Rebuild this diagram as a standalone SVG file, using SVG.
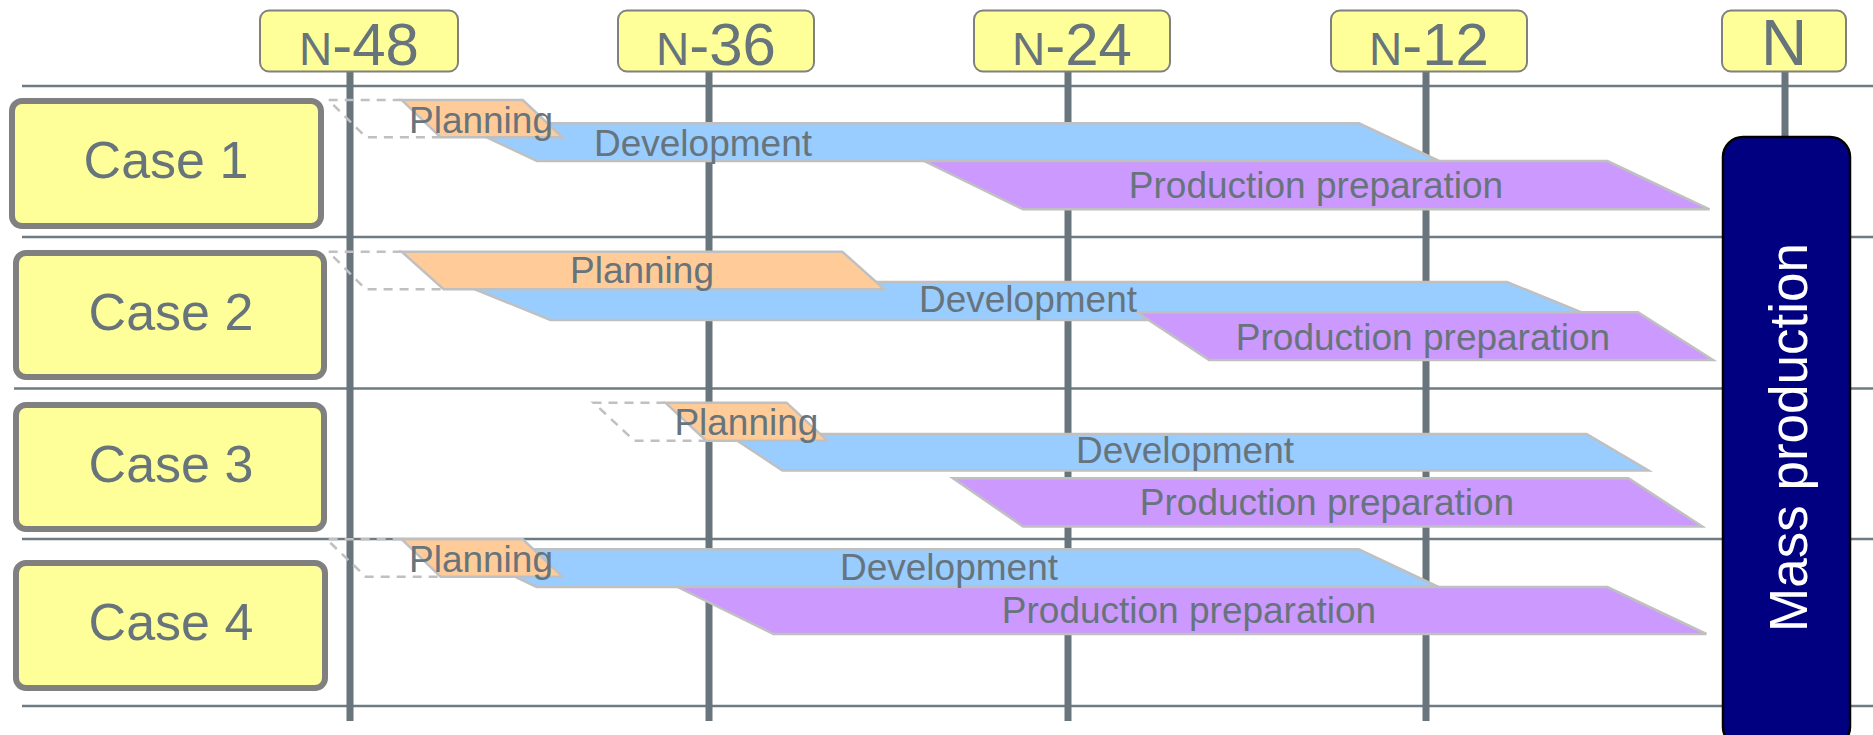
<svg xmlns="http://www.w3.org/2000/svg" width="1873" height="735" viewBox="0 0 1873 735">
  <style>
    .grid { stroke: #6e7b83; stroke-width: 2.5; fill: none; }
    .axis { stroke: #68757d; stroke-width: 7; fill: none; }
    .hdr { fill: #ffff99; stroke: #808080; stroke-width: 2; }
    .hdr-t { font-family: "Liberation Sans", Arial, sans-serif; font-size: 60px; fill: #67747c; text-anchor: middle; }
    .hdr-n { font-size: 46px; }
    .case { fill: #ffff99; stroke: #808080; stroke-width: 6; }
    .case-t { font-family: "Liberation Sans", Arial, sans-serif; font-size: 52px; fill: #67747c; text-anchor: middle; }
    .ghost { fill: none; stroke: #c0c0c0; stroke-width: 2.5; stroke-dasharray: 9 7; }
    .plan { fill: #ffcc99; stroke: #c0c0c0; stroke-width: 2.5; }
    .dev { fill: #99ccff; stroke: #c0c0c0; stroke-width: 2.5; }
    .prep { fill: #cc99ff; stroke: #c0c0c0; stroke-width: 2.5; }
    .bar-t { font-family: "Liberation Sans", Arial, sans-serif; font-size: 37px; fill: #67747c; text-anchor: middle; }
    .mass { fill: #000080; stroke: #000000; stroke-width: 2.5; }
    .mass-t { font-family: "Liberation Sans", Arial, sans-serif; font-size: 53px; fill: #ffffff; text-anchor: middle; }
  </style>

  <!-- row separators -->
  <g id="grid">
    <line class="grid" x1="22" y1="86" x2="1873" y2="86"/>
    <line class="grid" x1="22" y1="237" x2="1873" y2="237"/>
    <line class="grid" x1="14" y1="388.5" x2="1873" y2="388.5"/>
    <line class="grid" x1="22" y1="539" x2="1873" y2="539"/>
    <line class="grid" x1="22" y1="706" x2="1873" y2="706"/>
  </g>

  <!-- milestone lines dropping from each header -->
  <g id="connectors">
    <line class="axis" x1="350" y1="72" x2="350" y2="721"/>
    <line class="axis" x1="709" y1="72" x2="709" y2="721"/>
    <line class="axis" x1="1068" y1="72" x2="1068" y2="721"/>
    <line class="axis" x1="1426" y1="72" x2="1426" y2="721"/>
    <line class="axis" x1="1785" y1="72" x2="1785" y2="721"/>
  </g>

  <!-- milestone headers -->
  <g id="hdr-n48">
    <rect class="hdr" x="260" y="10.5" width="198" height="61" rx="9"/>
    <text class="hdr-t" x="359" y="65"><tspan class="hdr-n">N</tspan>-48</text>
  </g>
  <g id="hdr-n36">
    <rect class="hdr" x="618" y="10.5" width="196" height="61" rx="9"/>
    <text class="hdr-t" x="716" y="65"><tspan class="hdr-n">N</tspan>-36</text>
  </g>
  <g id="hdr-n24">
    <rect class="hdr" x="974" y="10.5" width="196" height="61" rx="9"/>
    <text class="hdr-t" x="1072" y="65"><tspan class="hdr-n">N</tspan>-24</text>
  </g>
  <g id="hdr-n12">
    <rect class="hdr" x="1331" y="10.5" width="196" height="61" rx="9"/>
    <text class="hdr-t" x="1429" y="65"><tspan class="hdr-n">N</tspan>-12</text>
  </g>
  <g id="hdr-n">
    <rect class="hdr" x="1722" y="10.5" width="124" height="61" rx="9"/>
    <text class="hdr-t" x="1784" y="65" style="font-size:64px">N</text>
  </g>

  <!-- case labels -->
  <g id="case1">
    <rect class="case" x="12" y="101" width="309" height="125" rx="10"/>
    <text class="case-t" x="166" y="178">Case 1</text>
  </g>
  <g id="case2">
    <rect class="case" x="16" y="253" width="308" height="124" rx="10"/>
    <text class="case-t" x="171" y="330">Case 2</text>
  </g>
  <g id="case3">
    <rect class="case" x="16" y="405" width="308" height="124" rx="10"/>
    <text class="case-t" x="171" y="482">Case 3</text>
  </g>
  <g id="case4">
    <rect class="case" x="16" y="563" width="309" height="125" rx="10"/>
    <text class="case-t" x="171" y="640">Case 4</text>
  </g>

  <!-- case 1 schedule -->
  <g id="bars1">
    <polygon class="dev" points="457,123.3 1359,123.3 1439,161 537,161"/>
    <polygon class="prep" points="924,161 1607.5,161 1709.5,209.3 1023,209.3"/>
    <path class="ghost" d="M401.7,100 H328.5 L366,137.3 H440.6"/>
    <polygon class="plan" points="401.7,100 522.8,100 562.4,137.3 440.6,137.3"/>
    <text class="bar-t" x="481" y="133">Planning</text>
    <text class="bar-t" x="703" y="156">Development</text>
    <text class="bar-t" x="1316" y="198">Production preparation</text>
  </g>

  <!-- case 2 schedule -->
  <g id="bars2">
    <polygon class="dev" points="457,282 1507,282 1600,320 550.4,320"/>
    <polygon class="prep" points="1137,312.3 1638,312.3 1713,360 1209,360"/>
    <path class="ghost" d="M401.7,251.7 H328.5 L365.7,289.3 H443.6"/>
    <polygon class="plan" points="401.7,251.7 842.3,251.7 884.3,289.3 443.6,289.3"/>
    <text class="bar-t" x="642" y="283.3">Planning</text>
    <text class="bar-t" x="1028" y="312">Development</text>
    <text class="bar-t" x="1423" y="350">Production preparation</text>
  </g>

  <!-- case 3 schedule -->
  <g id="bars3">
    <polygon class="dev" points="727,434 1586.5,434 1648.5,470.5 782.4,470.5"/>
    <polygon class="prep" points="953,478.3 1628.5,478.3 1702.2,526.5 1023,526.5"/>
    <path class="ghost" d="M665.5,402.7 H593.5 L634.3,440.7 H706.2"/>
    <polygon class="plan" points="665.5,402.7 786.6,402.7 827.3,440.7 706.2,440.7"/>
    <text class="bar-t" x="746.4" y="435">Planning</text>
    <text class="bar-t" x="1185" y="463.3">Development</text>
    <text class="bar-t" x="1327" y="515">Production preparation</text>
  </g>

  <!-- case 4 schedule -->
  <g id="bars4">
    <polygon class="dev" points="457,549.3 1358.7,549.3 1438.4,587 536.6,587"/>
    <polygon class="prep" points="677.5,587 1607.5,587 1706.4,634 773.4,634"/>
    <path class="ghost" d="M401.7,539.3 H326.7 L365.7,576.7 H440.6"/>
    <polygon class="plan" points="401.7,539.3 522.8,539.3 562.4,576.7 440.6,576.7"/>
    <text class="bar-t" x="481" y="571.7">Planning</text>
    <text class="bar-t" x="949" y="580">Development</text>
    <text class="bar-t" x="1189" y="623.3">Production preparation</text>
  </g>

  <!-- mass production block -->
  <g id="mass">
    <rect class="mass" x="1723" y="137" width="127" height="610" rx="20"/>
    <text class="mass-t" transform="translate(1807,437.5) rotate(-90)" x="0" y="0">Mass production</text>
  </g>
</svg>
